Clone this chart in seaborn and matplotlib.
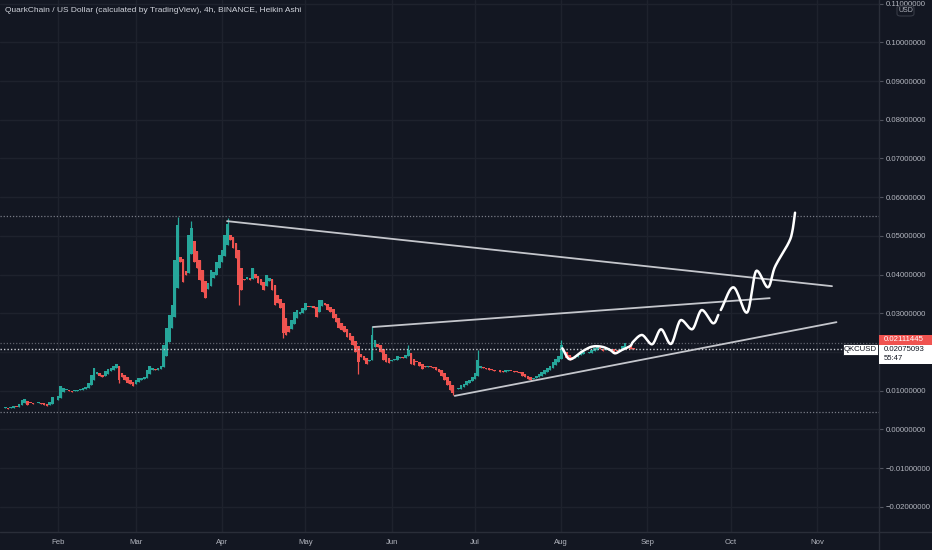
import numpy as np
import pandas as pd
import matplotlib
matplotlib.use("Agg")
import matplotlib.pyplot as plt
import matplotlib.dates as mdates
from matplotlib import font_manager
from matplotlib.patches import Rectangle, FancyBboxPatch
from matplotlib.lines import Line2D
import seaborn as sns

# ---- data (daily Heikin Ashi closes, QKC/USD 2021) ----
start_date = "2021-01-11"
closes = [
    0.0055, 0.0055, 0.0058, 0.0052, 0.0058, 0.0060, 0.0058, 0.0066, 0.0076, 0.0078,
    0.0063, 0.0068, 0.0066, 0.0068, 0.0071, 0.0066, 0.0063, 0.0060, 0.0071, 0.0084,
    0.0076, 0.0086, 0.0112, 0.0107, 0.0102, 0.0099, 0.0097, 0.0102, 0.0102, 0.0104,
    0.0107, 0.0109, 0.0120, 0.0140, 0.0158, 0.0148, 0.0138, 0.0135, 0.0150, 0.0156,
    0.0158, 0.0164, 0.0169, 0.0128, 0.0135, 0.0128, 0.0120, 0.0118, 0.0112, 0.0128,
    0.0133, 0.0133, 0.0135, 0.0153, 0.0164, 0.0158, 0.0153, 0.0158, 0.0164, 0.0218,
    0.0262, 0.0296, 0.0322, 0.0438, 0.0528, 0.0433, 0.0381, 0.0399, 0.0502, 0.0520,
    0.0433, 0.0417, 0.0386, 0.0355, 0.0340, 0.0378, 0.0412, 0.0407, 0.0433, 0.0451,
    0.0463, 0.0502, 0.0530, 0.0489, 0.0469, 0.0443, 0.0373, 0.0360, 0.0386, 0.0394,
    0.0386, 0.0417, 0.0391, 0.0378, 0.0373, 0.0360, 0.0399, 0.0391, 0.0360, 0.0322,
    0.0327, 0.0314, 0.0250, 0.0245, 0.0252, 0.0283, 0.0304, 0.0309, 0.0304, 0.0314,
    0.0327, 0.0317, 0.0319, 0.0314, 0.0291, 0.0334, 0.0334, 0.0322, 0.0309, 0.0304,
    0.0288, 0.0278, 0.0262, 0.0257, 0.0252, 0.0239, 0.0231, 0.0218, 0.0200, 0.0174,
    0.0187, 0.0180, 0.0169, 0.0180, 0.0245, 0.0231, 0.0213, 0.0200, 0.0180, 0.0174,
    0.0171, 0.0180, 0.0182, 0.0190, 0.0187, 0.0185, 0.0192, 0.0205, 0.0169, 0.0166,
    0.0174, 0.0164, 0.0156, 0.0161, 0.0164, 0.0161, 0.0158, 0.0153, 0.0148, 0.0138,
    0.0128, 0.0115, 0.0102, 0.0094, 0.0104, 0.0107, 0.0115, 0.0118, 0.0125, 0.0128,
    0.0135, 0.0146, 0.0180, 0.0164, 0.0158, 0.0156, 0.0153, 0.0153, 0.0151, 0.0153,
    0.0148, 0.0148, 0.0153, 0.0153, 0.0151, 0.0148, 0.0148, 0.0146, 0.0138, 0.0135,
    0.0130, 0.0128, 0.0133, 0.0138, 0.0143, 0.0148, 0.0153, 0.0158, 0.0164, 0.0174,
    0.0182, 0.0190, 0.0218, 0.0200, 0.0185, 0.0180, 0.0185, 0.0190, 0.0195, 0.0197,
    0.0200, 0.0197, 0.0200, 0.0205, 0.0210, 0.0213, 0.0208, 0.0203, 0.0208, 0.0210,
    0.0205, 0.0200, 0.0203, 0.0205, 0.0215, 0.0223, 0.0213, 0.0208, 0.02075,
]
# wick extremes that stick out of the bodies (day index, price)
wick_high_day = [64, 69, 82, 134, 147, 172, 202]
wick_high_val = [0.0549, 0.0538, 0.0545, 0.0266, 0.0218, 0.0206, 0.0230]
wick_low_day = [43, 86, 102, 129, 163, 191]
wick_low_val = [0.0120, 0.0322, 0.0235, 0.0143, 0.0088, 0.0125]

# horizontal dotted levels
level_prices = [0.0550, 0.00457]
last_price = 0.02075093
red_price = 0.02111445
countdown = "55:47"
symbol = "QKCUSD"
title = "QuarkChain / US Dollar (calculated by TradingView), 4h, BINANCE, Heikin Ashi"
price_ticks = [-0.02, -0.01, 0.0, 0.01, 0.02, 0.03, 0.04, 0.05, 0.06, 0.07, 0.08, 0.09, 0.10, 0.11]
hidden_tick = 0.02  # covered by the price tags

# drawn trend lines: (day index, price) pairs
trend_lines = {
    "top": ([81.8, 299.4], [0.0538, 0.0370]),
    "mid": ([134.3, 277.0], [0.02645, 0.0339]),
    "low": ([163.7, 301.0], [0.00866, 0.0277]),
}
# hand-drawn projection, two strokes (day index, price)
wave1_day = [202.4, 205.2, 209.4, 213.0, 216.6, 219.6, 221.4, 223.8, 226.8, 227.9,
             231.0, 234.6, 237.9, 241.4, 245.1, 249.0, 252.6, 256.7, 258.5]
wave1_val = [0.02095, 0.01811, 0.02007, 0.02136, 0.02136, 0.02051, 0.01966, 0.02051, 0.02154, 0.02266,
             0.02439, 0.02198, 0.02586, 0.02206, 0.02826, 0.02586, 0.03084, 0.02741, 0.02955]
wave2_day = [259.4, 263.9, 268.7, 272.3, 276.3, 278.9, 283.7, 285.1, 286.1]
wave2_val = [0.03084, 0.03671, 0.03015, 0.04100, 0.03671, 0.04203, 0.04808, 0.05107, 0.05598]

# ---- style ----
BG = "#131722"
GRID = "#1e222d"
SEP = "#2a2e39"
TXT = "#b2b5be"
UP = "#26a69a"
DOWN = "#ef5350"

sns.set_theme(style="dark", rc={
    "axes.facecolor": BG, "figure.facecolor": BG, "axes.edgecolor": SEP,
    "grid.color": GRID, "text.color": TXT, "xtick.color": TXT, "ytick.color": TXT,
})


def pick_font(names):
    for n in names:
        try:
            font_manager.findfont(font_manager.FontProperties(family=n), fallback_to_default=False)
            return n
        except Exception:
            pass
    return "DejaVu Sans"


axis_font = pick_font(["Liberation Sans Narrow", "Liberation Sans"])
axis_size = 6.6 if "Narrow" in axis_font else 5.6
title_font = pick_font(["Liberation Sans"])
plt.rcParams["font.family"] = [axis_font, "DejaVu Sans"]

W, H = 932, 550
fig = plt.figure(figsize=(W / 100, H / 100), dpi=100)
PANE_R, PANE_B = 879, 531.5
ax = fig.add_axes([0, (H - PANE_B) / H, PANE_R / W, PANE_B / H])

t0 = mdates.date2num(pd.Timestamp(start_date))
n = len(closes)
x = t0 + np.arange(n)
c = np.array(closes)

# heikin ashi open from the previous candle
o = np.empty(n)
o[0] = c[0]
for i in range(1, n):
    o[i] = (o[i - 1] + c[i - 1]) / 2
hi = np.maximum(o, c)
lo = np.minimum(o, c)
hi[wick_high_day] = wick_high_val
lo[wick_low_day] = wick_low_val
col = np.where(c >= o, UP, DOWN)

ax.vlines(x, lo, hi, colors=col, linewidth=0.9, zorder=3)
body = np.maximum(np.abs(c - o), 0.00015)
ax.bar(x, body, bottom=np.minimum(o, c), width=0.95, color=col, linewidth=0, zorder=4)

ax.set_xlim(t0 + 0.137, t0 + 316.3)
ax.set_ylim(-0.02638, 0.11093)

# grid and axes
ax.set_yticks(price_ticks)
ax.yaxis.set_major_formatter(plt.FuncFormatter(
    lambda v, p: "" if abs(v - hidden_tick) < 1e-9 else
    ("\u2212" if v < -1e-9 else "") + f"{abs(v):.8f}"))
ax.xaxis.set_major_locator(mdates.MonthLocator())
ax.xaxis.set_major_formatter(mdates.DateFormatter("%b"))
ax.yaxis.tick_right()
ax.grid(True, color=GRID, linewidth=1.0, zorder=0)
ax.set_axisbelow(True)
ax.tick_params(axis="y", length=3, width=0.8, color="#50535e", pad=2,
               labelsize=axis_size, labelcolor=TXT)
ax.tick_params(axis="x", length=0, pad=5.5, labelsize=axis_size, labelcolor=TXT)
for s in ax.spines.values():
    s.set_visible(False)

# dotted levels
for lv in level_prices:
    ax.axhline(lv, color="#787b86", linestyle=(0, (1, 1.5)), linewidth=0.9, zorder=2)
ax.axhline(0.0222, color="#5d606b", linestyle=(0, (1, 1.5)), linewidth=0.9, zorder=2)
ax.axhline(last_price, color="#c8cad0", linestyle=(0, (1, 1.5)), linewidth=1.0, zorder=5)

# trend lines through seaborn
rows = []
for name, (dd, vv) in trend_lines.items():
    for d, v in zip(dd, vv):
        rows.append({"line": name, "x": t0 + d, "price": v})
tl = pd.DataFrame(rows)
for name, g in tl.groupby("line"):
    sns.lineplot(data=g, x="x", y="price", ax=ax, color="#c4c6cc", linewidth=1.3,
                 estimator=None, sort=False, zorder=6)


def hermite(xs, ys, k=16):
    # smooth pen stroke: flat tangents at turning points, centred elsewhere
    xs = np.asarray(xs, float)
    ys = np.asarray(ys, float)
    m = len(xs)
    mx = np.gradient(xs)
    my = np.gradient(ys)
    for i in range(1, m - 1):
        if (ys[i] - ys[i - 1]) * (ys[i + 1] - ys[i]) < 0:
            my[i] = 0.0
    px, pyy = [], []
    t = np.linspace(0, 1, k, endpoint=False)
    h00 = 2 * t ** 3 - 3 * t ** 2 + 1
    h10 = t ** 3 - 2 * t ** 2 + t
    h01 = -2 * t ** 3 + 3 * t ** 2
    h11 = t ** 3 - t ** 2
    for i in range(m - 1):
        px.append(h00 * xs[i] + h10 * mx[i] + h01 * xs[i + 1] + h11 * mx[i + 1])
        pyy.append(h00 * ys[i] + h10 * my[i] + h01 * ys[i + 1] + h11 * my[i + 1])
    px.append([xs[-1]])
    pyy.append([ys[-1]])
    return np.concatenate(px), np.concatenate(pyy)


for dd, vv in [(wave1_day, wave1_val), (wave2_day, wave2_val)]:
    sx, sy = hermite(t0 + np.array(dd), vv)
    ax.plot(sx, sy, color="white", linewidth=1.8, zorder=7,
            solid_capstyle="round", solid_joinstyle="round")

ax.set_xlabel("")
ax.set_ylabel("")

# ---- pane separators ----
fig.add_artist(Line2D([PANE_R / W, PANE_R / W], [0, 1], color=SEP, linewidth=1.0))
fig.add_artist(Line2D([0, 1], [(H - PANE_B) / H, (H - PANE_B) / H], color=SEP, linewidth=1.0))

# ---- price tags on the axis ----
fig.canvas.draw()


def py(p):
    return ax.transData.transform((t0, p))[1]


y_last = py(last_price)
wb_top = y_last + 4.5
fig.add_artist(Rectangle((PANE_R / W, (wb_top - 19) / H), (W - PANE_R) / W, 19 / H,
                         facecolor="white", edgecolor="none", zorder=10))
fig.text((PANE_R + 5) / W, y_last / H, f"{last_price:.8f}", color="#131722",
         fontsize=axis_size, va="center", ha="left", zorder=11)
fig.text((PANE_R + 5) / W, (y_last - 9) / H, countdown, color="#131722",
         fontsize=axis_size, va="center", ha="left", zorder=11)
fig.add_artist(Rectangle((PANE_R / W, wb_top / H), (W - PANE_R) / W, 10 / H,
                         facecolor="#f05350", edgecolor="none", zorder=10))
fig.text((PANE_R + 5) / W, (wb_top + 5) / H, f"{red_price:.8f}", color="white",
         fontsize=axis_size, va="center", ha="left", zorder=11)
fig.add_artist(Rectangle((843 / W, (y_last - 5.5) / H), 35 / W, 11 / H,
                         facecolor="white", edgecolor="#131722", linewidth=0.6, zorder=10))
fig.text(860.5 / W, y_last / H, symbol, color="#131722", fontsize=axis_size,
         va="center", ha="center", zorder=11)

# USD unit tag
fig.add_artist(FancyBboxPatch((897 / W, (H - 16) / H), 17 / W, 10 / H,
                              boxstyle="round,pad=0,rounding_size=0.004",
                              facecolor=BG, edgecolor="#363a45", linewidth=0.8, zorder=10))
fig.text(905.5 / W, (H - 11) / H, "USD", color=TXT, fontsize=axis_size - 0.6,
         va="center", ha="center", zorder=11)

# title
fig.text(5 / W, (H - 11) / H, title, color="#d1d4dc", fontsize=6.0,
         family=[title_font, "DejaVu Sans"], va="center", ha="left")

fig.savefig("out.png", dpi=100, facecolor=BG)
